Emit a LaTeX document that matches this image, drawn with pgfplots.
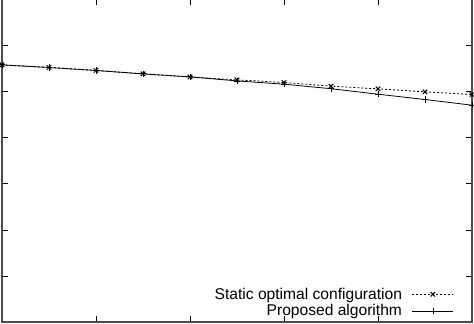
\documentclass[border=0pt]{standalone}
\usepackage{fontspec}
\setmainfont{Liberation Sans}
\usepackage{pgfplots}
\pgfplotsset{compat=1.18}
\begin{document}
\begin{tikzpicture}
\begin{axis}[
  name=ax,
  scale only axis,
  width=470pt, height=323.2pt,
  xmin=0, xmax=5, ymin=0, ymax=7,
  xtick={0,1,2,3,4,5}, ytick={0,1,2,3,4,5,6,7},
  xticklabels={}, yticklabels={},
  tick align=inside,
  major tick length=6pt,
  tick style={black, line width=0.7pt},
  axis line style={black!70, line width=1.6pt},
  clip=false,
  legend style={draw=none, fill=none, at={(rel axis cs:1,0)}, anchor=south east,
    xshift=-17pt, yshift=1.5pt, legend plot pos=right, legend cell align=right,
    font=\fontsize{15.6}{17}\selectfont, row sep=0pt, inner sep=1pt},
  legend image code/.code={\path (0pt,0pt); \draw[#1, mark repeat=2, mark phase=2] plot coordinates {(8pt,0pt) (28.5pt,0pt) (49pt,0pt)};},
]
\addplot[black, line width=0.8pt, dash pattern=on 2pt off 2pt, mark=x, mark size=3.2pt, mark options={solid, line width=1pt}]
  coordinates {(0,5.573) (0.5,5.517) (1,5.452) (1.5,5.378) (2,5.313) (2.5,5.248) (3,5.192) (3.5,5.112) (4,5.054) (4.5,4.989) (5,4.932)};
\addlegendentry{Static optimal configuration}
\addplot[black, line width=0.8pt, mark=+, mark size=3.2pt, mark options={solid, line width=0.8pt}]
  coordinates {(0,5.573) (0.5,5.517) (1,5.452) (1.5,5.378) (2,5.313) (2.5,5.226) (3,5.155) (3.5,5.057) (4,4.938) (4.5,4.823) (5,4.700)};
\addlegendentry{Proposed algorithm}
\end{axis}
\pgfresetboundingbox
\useasboundingbox ([xshift=-2pt, yshift=-1.8pt]ax.south west) rectangle ([xshift=2pt, yshift=-1pt]ax.north east);
\end{tikzpicture}
\end{document}
